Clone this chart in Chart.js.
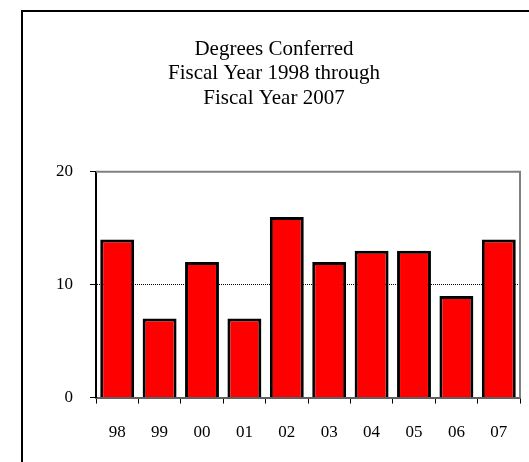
<!DOCTYPE html>
<html>
<head>
<meta charset="utf-8">
<script src="https://cdn.jsdelivr.net/npm/chart.js@4"></script>
<style>
    html, body { margin: 0; padding: 0; background: #fff; overflow: hidden; }
    #frame {
        position: absolute; left: 21px; top: 10px;
        width: 600px; height: 600px;
        border-left: 2px solid #000; border-top: 2px solid #000;
    }
    #wrap { position: absolute; left: 0; top: 0; width: 529px; height: 462px; }
</style>
</head>
<body>
<div id="frame"></div>
<div id="wrap"><canvas id="barCanvas" width="529" height="462"></canvas></div>
<script>
// fiscal years (2-digit)
let years = ['98', '99', '00', '01', '02', '03', '04', '05', '06', '07'];
let degrees = [14, 7, 12, 7, 16, 12, 13, 13, 9, 14];
let yTicks = [0, 10, 20];
let titleLines = ['Degrees Conferred', 'Fiscal Year 1998 through', 'Fiscal Year 2007'];

const serif = "'Liberation Serif', 'Times New Roman', serif";

// gray border on top and right of the plot area
let plotFrame = {
    id: 'plotFrame',
    afterDraw: function (chart) {
        let a = chart.chartArea;
        let ctx = chart.ctx;
        ctx.save();
        ctx.strokeStyle = '#808080';
        ctx.lineWidth = 2;
        ctx.beginPath();
        ctx.moveTo(a.left, a.top);
        ctx.lineTo(a.right, a.top);
        ctx.lineTo(a.right, a.bottom);
        ctx.stroke();
        ctx.restore();
    }
};

let barChartDraw = function () {
    let ctx = document.getElementById('barCanvas').getContext('2d');

    window.barChart = new Chart(ctx, {
        type: 'bar',
        data: {
            labels: years,
            datasets: [{
                data: degrees,
                backgroundColor: '#ff0000',
                borderColor: '#000000',
                borderWidth: 3,
                categoryPercentage: 0.8,
                barPercentage: 1.0
            }]
        },
        options: {
            responsive: false,
            animation: false,
            layout: {
                padding: { left: 28, right: 9, top: 0, bottom: 0 }
            },
            plugins: {
                legend: { display: false },
                tooltip: { enabled: false },
                title: {
                    display: true,
                    text: titleLines,
                    color: '#000',
                    font: { family: serif, size: 21, weight: 'normal', lineHeight: 1.17 },
                    padding: { top: 37, bottom: 61 }
                }
            },
            scales: {
                x: {
                    grid: {
                        drawOnChartArea: false,
                        tickLength: 6,
                        tickColor: '#000',
                        tickWidth: 1
                    },
                    border: { color: '#606060', width: 2 },
                    ticks: {
                        color: '#000',
                        padding: 19,
                        font: { family: serif, size: 17 }
                    }
                },
                y: {
                    min: 0,
                    max: 20,
                    afterFit: function (scale) { scale.width = 68; },
                    afterBuildTicks: function (scale) {
                        scale.ticks = yTicks.map(function (v) { return { value: v }; });
                    },
                    grid: {
                        color: function (c) {
                            return c.tick && c.tick.value === 10 ? '#000' : 'rgba(0,0,0,0)';
                        },
                        lineWidth: 1,
                        tickLength: 6,
                        tickColor: '#000',
                        tickWidth: 1
                    },
                    border: { color: '#000', width: 2, dash: [1, 1] },
                    ticks: {
                        color: '#000',
                        padding: 17,
                        font: { family: serif, size: 17 }
                    }
                }
            }
        },
        plugins: [plotFrame]
    });
};

window.onload = function () {
    barChartDraw();
};
</script>
</body>
</html>
